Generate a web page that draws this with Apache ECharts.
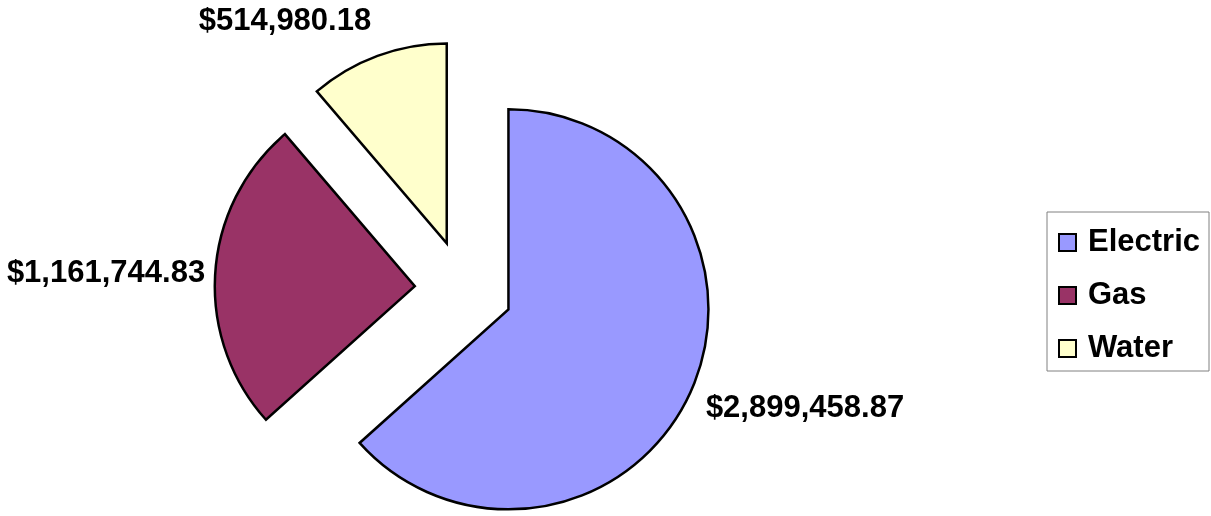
<!DOCTYPE html>
<html>
<head>
<meta charset="utf-8">
<script src="https://cdn.jsdelivr.net/npm/echarts@6/dist/echarts.min.js"></script>
<style>
html,body{margin:0;padding:0;background:#fff;}
#chart{width:1211px;height:516px;}
</style>
</head>
<body>
<div id="chart"></div>
<script>
const categories = ['Electric', 'Gas', 'Water'];
const values = [2899458.87, 1161744.83, 514980.18];
const colors = ['#9999FF', '#993366', '#FFFFCC'];

const labelPos = [
  { x: 805, y: 408 },
  { x: 106, y: 273 },
  { x: 285, y: 21 }
];

function money(v) {
  return '$' + v.toLocaleString('en-US', { minimumFractionDigits: 2, maximumFractionDigits: 2 });
}

const labelFont = {
  fontFamily: 'Liberation Sans, Arial, sans-serif',
  fontSize: 31,
  fontWeight: 'bold'
};

const chart = echarts.init(document.getElementById('chart'), null, { renderer: 'canvas' });
chart.setOption({
  animation: false,
  backgroundColor: '#ffffff',
  legend: {
    orient: 'vertical',
    left: 1047,
    top: 212,
    padding: [15, 9, 7, 11],
    itemWidth: 17,
    itemHeight: 17,
    itemGap: 22,
    borderColor: '#808080',
    borderWidth: 1,
    icon: 'rect',
    selectedMode: false,
    itemStyle: { borderColor: '#000', borderWidth: 2 },
    textStyle: Object.assign({ color: '#000', padding: [0, 0, 0, 7] }, labelFont),
    data: categories
  },
  graphic: categories.map((c, i) => ({
    type: 'text',
    x: labelPos[i].x,
    y: labelPos[i].y,
    silent: true,
    style: Object.assign({
      text: money(values[i]),
      fill: '#000',
      align: 'center',
      verticalAlign: 'middle'
    }, labelFont)
  })),
  series: [{
    type: 'pie',
    center: [463.7, 289.4],
    radius: 200,
    startAngle: 90,
    clockwise: true,
    selectedMode: 'multiple',
    selectedOffset: 49,
    avoidLabelOverlap: false,
    silent: true,
    itemStyle: { borderColor: '#000', borderWidth: 2.5, borderJoin: 'miter' },
    emphasis: { disabled: true },
    label: { show: false },
    labelLine: { show: false },
    data: categories.map((c, i) => ({
      name: c,
      value: values[i],
      selected: true,
      itemStyle: { color: colors[i] },
      select: { itemStyle: { color: colors[i], borderColor: '#000', borderWidth: 2.5 } }
    }))
  }]
});
</script>
</body>
</html>
